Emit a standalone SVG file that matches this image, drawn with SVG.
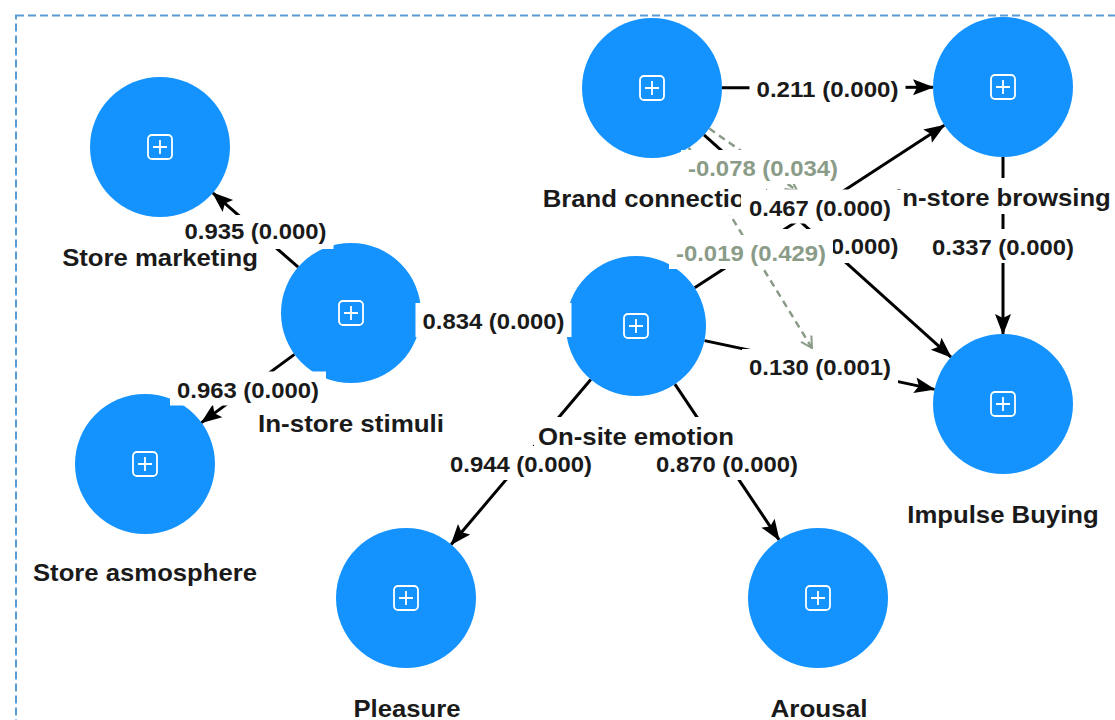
<svg xmlns="http://www.w3.org/2000/svg" width="1115" height="720" viewBox="0 0 1115 720">
<style>
.node{fill:#1493FF}
.icon{fill:none;stroke:#fff;stroke-width:1.8}
.edge{stroke:#000;stroke-width:3;fill:none;marker-end:url(#arr)}
.mod{stroke:#8a9b88;stroke-width:2.5;stroke-dasharray:7,5;fill:none;marker-end:url(#open)}
.bg{fill:#fff}
.nl{font-family:"Liberation Sans",Arial,sans-serif;font-weight:bold;font-size:24px;fill:#1a1a1a;text-anchor:middle}
.el{font-family:"Liberation Sans",Arial,sans-serif;font-weight:bold;font-size:22px;fill:#1a1a1a;text-anchor:middle}
.ml{fill:#8a9b88}
</style>
<defs>
<marker id="arr" markerUnits="userSpaceOnUse" markerWidth="22" markerHeight="18" refX="20" refY="8" orient="auto" overflow="visible"><path d="M0,0 L21,8 L0,16 L4,8 z" fill="#000"/></marker>
<marker id="open" markerUnits="userSpaceOnUse" markerWidth="14" markerHeight="14" refX="12" refY="6" orient="auto" overflow="visible"><path d="M1,0 L12,6 L1,12" fill="none" stroke="#8a9b88" stroke-width="2"/></marker>
<g id="plus"><rect x="-12" y="-12" width="24" height="24" rx="4" class="icon"/><path d="M0,-7 V7 M-7,0 H7" class="icon"/></g>
</defs>
<rect x="16" y="15.5" width="1200" height="800" fill="none" stroke="#5B9BD5" stroke-width="2" stroke-dasharray="8,4"/>
<g id="connectors">
<line class="edge" x1="298.2" y1="267.1" x2="212.8" y2="192.9"/>
<line class="edge" x1="294.5" y1="354.4" x2="201.5" y2="422.6"/>
<line class="edge" x1="420.9" y1="316.2" x2="566.1" y2="322.8"/>
<line class="edge" x1="590.8" y1="379.5" x2="451.2" y2="544.5"/>
<line class="edge" x1="674.9" y1="384.2" x2="779.1" y2="539.8"/>
<line class="edge" x1="694.7" y1="287.8" x2="944.3" y2="125.2"/>
<line class="edge" x1="704.5" y1="340.6" x2="934.5" y2="389.4"/>
<line class="edge" x1="722" y1="87.8" x2="933" y2="87.2"/>
<line class="edge" x1="704" y1="134.8" x2="951" y2="357.2"/>
<line class="edge" x1="1003" y1="157" x2="1003" y2="334"/>
<line class="mod" x1="709.2" y1="128.5" x2="797" y2="190.5"/>
<line class="mod" x1="688.8" y1="147.6" x2="812" y2="348"/>
</g>
<g id="node-store-marketing"><circle class="node" cx="160" cy="147" r="70"/><use href="#plus" x="160" y="147"/></g>
<g id="node-in-store-stimuli"><circle class="node" cx="351" cy="313" r="70"/><use href="#plus" x="351" y="313"/></g>
<g id="node-store-asmosphere"><circle class="node" cx="145" cy="464" r="70"/><use href="#plus" x="145" y="464"/></g>
<g id="node-on-site-emotion"><circle class="node" cx="636" cy="326" r="70"/><use href="#plus" x="636" y="326"/></g>
<g id="node-brand-connection"><circle class="node" cx="652" cy="88" r="70"/><use href="#plus" x="652" y="88"/></g>
<g id="node-in-store-browsing"><circle class="node" cx="1003" cy="87" r="70"/><use href="#plus" x="1003" y="87"/></g>
<g id="node-impulse-buying"><circle class="node" cx="1003" cy="404" r="70"/><use href="#plus" x="1003" y="404"/></g>
<g id="node-pleasure"><circle class="node" cx="406" cy="598" r="70"/><use href="#plus" x="406" y="598"/></g>
<g id="node-arousal"><circle class="node" cx="818" cy="598" r="70"/><use href="#plus" x="818" y="598"/></g>
<g id="node-labels">
<rect class="bg" x="58" y="238" width="204" height="36"/><text class="nl" x="160" y="266" textLength="195.7" lengthAdjust="spacingAndGlyphs">Store marketing</text>
<rect class="bg" x="254" y="404" width="194" height="36"/><text class="nl" x="351" y="432" textLength="186" lengthAdjust="spacingAndGlyphs">In-store stimuli</text>
<rect class="bg" x="29" y="553" width="232" height="36"/><text class="nl" x="145" y="581" textLength="224" lengthAdjust="spacingAndGlyphs">Store asmosphere</text>
<rect class="bg" x="534" y="417" width="204" height="36"/><text class="nl" x="636" y="445" textLength="196" lengthAdjust="spacingAndGlyphs">On-site emotion</text>
<rect class="bg" x="538" y="179" width="228" height="36"/><text class="nl" x="652" y="207" textLength="218.5" lengthAdjust="spacingAndGlyphs">Brand connection</text>
<rect class="bg" x="891" y="178" width="224" height="36"/><text class="nl" x="1003" y="206" textLength="215.6" lengthAdjust="spacingAndGlyphs">In-store browsing</text>
<rect class="bg" x="903" y="495" width="200" height="36"/><text class="nl" x="1003" y="523" textLength="191.4" lengthAdjust="spacingAndGlyphs">Impulse Buying</text>
<rect class="bg" x="349" y="689" width="116" height="36"/><text class="nl" x="407" y="717" textLength="107" lengthAdjust="spacingAndGlyphs">Pleasure</text>
<rect class="bg" x="766" y="689" width="106" height="36"/><text class="nl" x="819" y="717" textLength="97" lengthAdjust="spacingAndGlyphs">Arousal</text>
</g>
<g id="edge-labels">
<rect class="bg" x="177.5" y="215" width="156" height="34"/><text class="el" x="255.5" y="239" textLength="142" lengthAdjust="spacingAndGlyphs">0.935 (0.000)</text>
<rect class="bg" x="170" y="371.5" width="156" height="34"/><text class="el" x="248" y="397.5" textLength="142" lengthAdjust="spacingAndGlyphs">0.963 (0.000)</text>
<rect class="bg" x="415.5" y="303" width="156" height="34"/><text class="el" x="493.5" y="329" textLength="142" lengthAdjust="spacingAndGlyphs">0.834 (0.000)</text>
<rect class="bg" x="443" y="446" width="156" height="34"/><text class="el" x="521" y="472" textLength="142" lengthAdjust="spacingAndGlyphs">0.944 (0.000)</text>
<rect class="bg" x="649" y="446" width="156" height="34"/><text class="el" x="727" y="472" textLength="142" lengthAdjust="spacingAndGlyphs">0.870 (0.000)</text>
<rect class="bg" x="741" y="189.5" width="161" height="34"/><text class="el" x="820" y="215.5" textLength="142" lengthAdjust="spacingAndGlyphs">0.467 (0.000)</text>
<rect class="bg" x="742" y="349" width="156" height="34"/><text class="el" x="820" y="375" textLength="142" lengthAdjust="spacingAndGlyphs">0.130 (0.001)</text>
<rect class="bg" x="749.5" y="71" width="156" height="34"/><text class="el" x="827.5" y="97" textLength="142" lengthAdjust="spacingAndGlyphs">0.211 (0.000)</text>
<rect class="bg" x="749.5" y="229" width="156" height="34"/><text class="el" x="898.5" y="254" textLength="67.7" lengthAdjust="spacingAndGlyphs" style="text-anchor:end">0.000)</text>
<rect class="bg" x="925" y="229" width="156" height="34"/><text class="el" x="1003" y="255" textLength="142" lengthAdjust="spacingAndGlyphs">0.337 (0.000)</text>
<rect class="bg" x="681" y="150" width="164" height="34"/><text class="el ml" x="763" y="176" textLength="150" lengthAdjust="spacingAndGlyphs">-0.078 (0.034)</text>
<rect class="bg" x="669" y="235" width="164" height="34"/><text class="el ml" x="751" y="261" textLength="150" lengthAdjust="spacingAndGlyphs">-0.019 (0.429)</text>
</g>
</svg>
